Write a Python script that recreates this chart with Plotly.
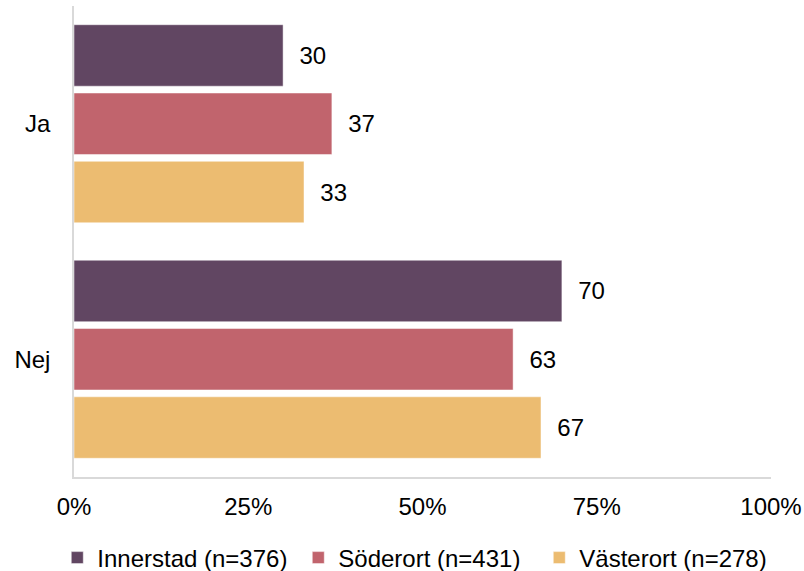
import plotly.graph_objects as go

categories = ["Ja", "Nej"]
series_names = ["Innerstad (n=376)", "Söderort (n=431)", "Västerort (n=278)"]
innerstad = [30, 70]
soderort = [37, 63]
vasterort = [33, 67]
colors = ["#614662", "#C1646D", "#ECBC71"]
x_ticks = [0, 25, 50, 75, 100]
x_tick_labels = ["0%", "25%", "50%", "75%", "100%"]

FONT = "Liberation Sans, Arial, sans-serif"

fig = go.Figure()
for name, vals, col in zip(series_names, [innerstad, soderort, vasterort], colors):
    fig.add_trace(go.Bar(
        y=categories, x=vals, name=name, orientation="h",
        marker=dict(color=col, line=dict(color="rgba(255,255,255,0.6)", width=0.8)),
        text=[str(v) for v in vals], texttemplate="\u00a0\u00a0%{text}", textposition="outside",
        textfont=dict(size=24, color="#000", family=FONT),
        cliponaxis=False,
    ))

fig.update_layout(
    barmode="group", bargap=0.13, bargroupgap=0.1,
    width=804, height=571,
    margin=dict(l=74, r=33, t=6, b=94, autoexpand=False),
    plot_bgcolor="white", paper_bgcolor="white",
    font=dict(family=FONT, size=24, color="#000"),
    showlegend=True,
    legend=dict(orientation="h", x=-0.024, xanchor="left", y=-0.172, yanchor="middle",
                font=dict(size=24, family=FONT, color="#000"), traceorder="normal",
                itemwidth=30, entrywidth=196, entrywidthmode="pixels"),
    xaxis=dict(range=[0, 100], tickvals=x_ticks, ticktext=x_tick_labels, showgrid=False,
               zeroline=False, showline=True, linecolor="#D9D9D9", linewidth=1.5,
               ticks="", ticklabelstandoff=7, tickfont=dict(size=24)),
    yaxis=dict(autorange="reversed", showgrid=False, zeroline=False, showline=True,
               linecolor="#D9D9D9", linewidth=1.5, ticks="", ticklabelstandoff=17,
               tickfont=dict(size=24)),
)

fig.write_html("out.html", config={"displayModeBar": False},
               post_script="document.body.style.margin='0';document.body.style.overflow='hidden';")
